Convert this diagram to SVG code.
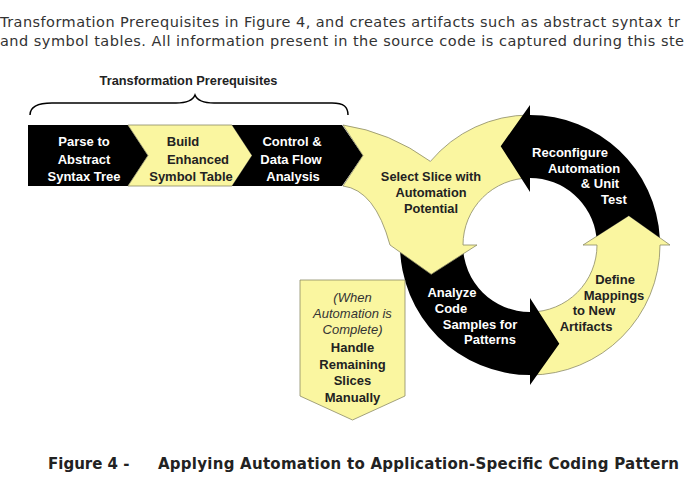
<svg xmlns="http://www.w3.org/2000/svg" width="700" height="483" viewBox="0 0 700 483">
<style>
.body{font-family:"DejaVu Sans",Verdana,sans-serif;font-size:14.5px;fill:#333}
.cap{font-family:"DejaVu Sans",Verdana,sans-serif;font-size:15px;font-weight:bold;fill:#222}
.lbl{font-family:"Liberation Sans",Arial,sans-serif;font-size:13px;font-weight:bold;text-anchor:middle}
.w{fill:#ffffff}
.d{fill:#222222}
.it{font-family:"Liberation Sans",Arial,sans-serif;font-size:13px;font-style:italic;text-anchor:middle;fill:#333}
.blk{fill:#000000}
.yel{fill:#FAF6A0;stroke:#8c8a66;stroke-width:0.8}
.brace{fill:none;stroke:#000;stroke-width:1.5}
</style>
<rect width="700" height="483" fill="#ffffff"/>
<text class="body" x="0" y="27" textLength="680" lengthAdjust="spacing">Transformation Prerequisites in Figure 4, and creates artifacts such as abstract syntax tr</text>
<text class="body" x="0" y="46" textLength="684" lengthAdjust="spacing">and symbol tables. All information present in the source code is captured during this ste</text>

<g id="brace">
<path class="brace" d="M30,115 C30,106 38,103 52,103 L176,103 C188,103 193,100 195,95 C197,100 202,103 214,103 L332,103 C344,103 348,107 348,115"/>
<text class="lbl d" x="188.5" y="85" style="font-size:12.8px">Transformation Prerequisites</text>
</g>

<g id="parse">
<path class="blk" d="M28,125 L128,125 L148,155.5 L128,186 L28,186 Z"/>
<text class="lbl w" x="84" y="146">Parse to</text>
<text class="lbl w" x="84" y="163.5">Abstract</text>
<text class="lbl w" x="84" y="181">Syntax Tree</text>
</g>
<g id="build">
<path class="yel" d="M128,125 L232,125 L252,155.5 L232,186 L128,186 L148,155.5 Z"/>
<text class="lbl d" x="183" y="146">Build</text>
<text class="lbl d" x="198" y="163.5">Enhanced</text>
<text class="lbl d" x="191" y="181">Symbol Table</text>
</g>
<g id="control">
<path class="blk" d="M232,125 L342,125 L363,155.5 L342,186 L232,186 L252,155.5 Z"/>
<text class="lbl w" x="292" y="146">Control &amp;</text>
<text class="lbl w" x="291" y="163.5">Data Flow</text>
<text class="lbl w" x="293" y="181">Analysis</text>
</g>

<g id="define">
<path class="yel" d="M530,375 A130,130 0 0 0 660,245 L670,245 L628.8,215.7 L583,245 L597,245 A67,67 0 0 1 530,312 Z"/>
<text class="lbl d" x="615" y="284">Define</text>
<text class="lbl d" x="614" y="299.5">Mappings</text>
<text class="lbl d" x="594" y="315">to New</text>
<text class="lbl d" x="586" y="331">Artifacts</text>
</g>
<g id="analyze">
<path class="blk" d="M400,245 A130,130 0 0 0 530,375 L530,385 L559.3,343.8 L530,298 L530,312 A67,67 0 0 1 463,245 Z"/>
<text class="lbl w" x="452" y="297">Analyze</text>
<text class="lbl w" x="451" y="313">Code</text>
<text class="lbl w" x="480" y="328.5">Samples for</text>
<text class="lbl w" x="490" y="344">Patterns</text>
</g>
<g id="select">
<path class="yel" d="M530,115 A130,130 0 0 0 430.4,161.4 Q390,132 343,125 L363,155.5 L343,186 Q375,190 390,245 L431.2,274.3 L477,245 L463,245 A67,67 0 0 1 530,178 Z"/>
<text class="lbl d" x="431" y="181" style="font-size:12.8px">Select Slice with</text>
<text class="lbl d" x="431" y="197" style="font-size:12.8px">Automation</text>
<text class="lbl d" x="431" y="213" style="font-size:12.8px">Potential</text>
</g>
<g id="reconfigure">
<path class="blk" d="M659.8,237.7 A130,130 0 0 0 530,115 L530,105 L500.7,146.2 L530,192 L530,178 A67,67 0 0 1 596.4,236.4 L628.8,215.7 Z"/>
<text class="lbl w" x="570" y="157">Reconfigure</text>
<text class="lbl w" x="584" y="172.5">Automation</text>
<text class="lbl w" x="600" y="188">&amp; Unit</text>
<text class="lbl w" x="614" y="203.5">Test</text>
</g>

<g id="manual">
<path class="yel" d="M300,280 L405,280 L405,396 L352.5,420 L300,396 Z"/>
<text class="it" x="352.5" y="302">(When</text>
<text class="it" x="352.5" y="318">Automation is</text>
<text class="it" x="352.5" y="334">Complete)</text>
<text class="lbl d" x="352.5" y="352">Handle</text>
<text class="lbl d" x="352.5" y="368.5">Remaining</text>
<text class="lbl d" x="352.5" y="385">Slices</text>
<text class="lbl d" x="352.5" y="402">Manually</text>
</g>

<g id="connectors"></g>

<text class="cap" x="48" y="469">Figure 4 -</text>
<text class="cap" x="158" y="469" textLength="521" lengthAdjust="spacing">Applying Automation to Application-Specific Coding Pattern</text>
</svg>
